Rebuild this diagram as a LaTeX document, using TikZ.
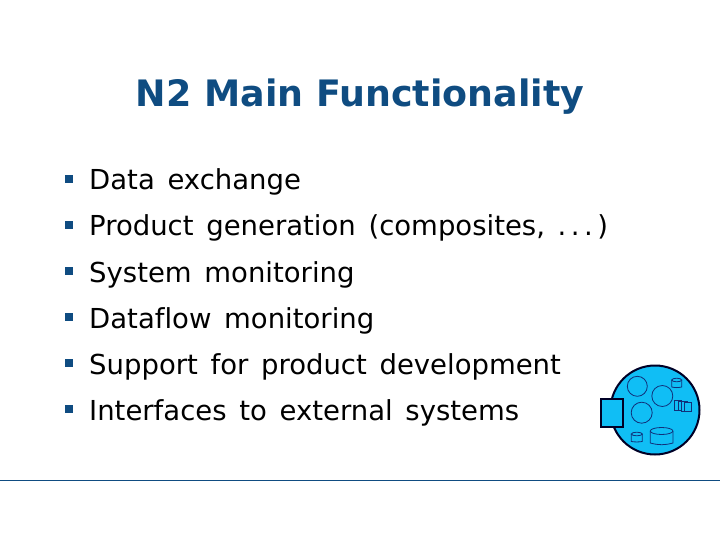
\documentclass[tikz,border=0pt]{standalone}
\usepackage{fontspec}
\setmainfont[WordSpace=1.45,Ligatures=NoCommon]{DejaVu Sans}
\newfontfamily\titlefont{DejaVu Sans}
\definecolor{navy}{HTML}{0F4C81}
\definecolor{sky}{HTML}{10BEF5}
\definecolor{edge}{HTML}{10307A}
\tikzset{
  titletext/.style={anchor=base,text=navy,font=\titlefont\fontsize{36.4}{42}\selectfont\bfseries},
  itemtext/.style={anchor=base west,inner sep=0pt,text=black,font=\fontsize{27.5}{32}\selectfont},
  bulletbox/.style={anchor=center,fill=navy,minimum width=8.5pt,minimum height=8.5pt,inner sep=0pt},
  thick outline/.style={draw=black!85!blue,line width=2pt,fill=sky},
  part/.style={draw=edge,line width=0.8pt},
}
\begin{document}
\begin{tikzpicture}[x=1pt,y=-1pt]
\useasboundingbox (0,0) rectangle (720,540);
\node[titletext] (title) at (360,107) {N2 Main Functionality};
\foreach \n/\y/\t in {a/190/Data exchange,b/236/{Product generation (composites, .\kern4.5pt.\kern4.5pt.\kern4.5pt)},c/282/System monitoring,d/328/Dataflow monitoring,e/374/Support for product development,f/420/Interfaces to external systems}{
  \node[bulletbox] (bul\n) at (69,\y-11) {};
  \node[itemtext] (item\n) at (89,\y) {\t};
}
\coordinate (ruleL) at (0,480.5);
\coordinate (ruleR) at (720,480.5);
\draw[navy,line width=0.8pt] (ruleL) -- (ruleR);
\draw[thick outline] (655,410) circle (44.5);
\draw[thick outline] (601,399) rectangle (623,427);
\draw[part] (637.3,386.3) circle (10);
\draw[part] (662.3,396) circle (10.5);
\draw[part] (641.7,412.7) circle (10.5);
% top-right cylinder
\draw[part] (671.7,380) -- (671.7,387) to[bend right=12] (681.7,387) -- (681.7,380);
\draw[part] (676.7,380) ellipse (5 and 1.8);
% small cylinder
\draw[part] (631.3,434) -- (631.3,441.5) to[bend right=8] (642.3,441.5) -- (642.3,434);
\draw[part] (636.8,434) ellipse (5.5 and 1.8);
% large cylinder
\draw[part] (650.3,431) -- (650.3,443) to[bend right=15] (673,443) -- (673,431);
\draw[part] (661.6,431) ellipse (11.3 and 3.5);
% stacked files
\foreach \x/\y in {674.5/400.5,678/401,681/401.5,684.5/402}{
  \draw[part,fill=sky] (\x,\y) rectangle ++(6.8,9.5);
}
\end{tikzpicture}
\end{document}
